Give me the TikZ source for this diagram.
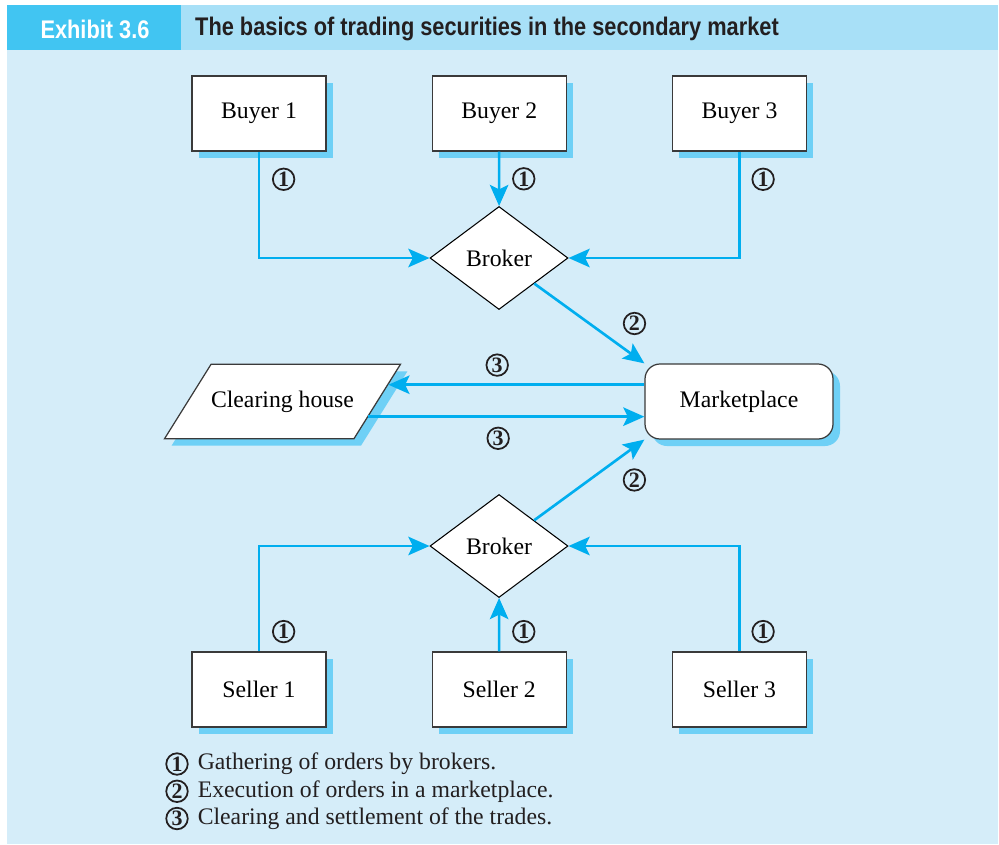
\documentclass[tikz,border=0pt]{standalone}
\usepackage{fontspec}
\setmainfont{Liberation Serif}
\newfontfamily\headfont{Liberation Sans}[FakeStretch=0.855]
\usepackage{xcolor}
\usepackage{tikz}
\usetikzlibrary{shapes.geometric, arrows.meta, positioning, shadows, calc}

\definecolor{bodyblue}{HTML}{D5EDF9}
\definecolor{headlight}{HTML}{A8E0F7}
\definecolor{headdark}{HTML}{41C5F2}
\definecolor{flowblue}{HTML}{00AEEF}
\definecolor{shadowblue}{HTML}{6ED0F6}
\definecolor{linegray}{HTML}{3A3A3A}
\definecolor{titleink}{HTML}{231F20}

\begin{document}
\begin{tikzpicture}[
        x=0.2mm, y=-0.2mm,
        boxshadow/.style={drop shadow={shadow xshift=0.14cm, shadow yshift=-0.14cm, fill=shadowblue, opacity=1}},
        party/.style={rectangle, draw=linegray, line width=0.7pt, fill=white, boxshadow,
            minimum width=2.68cm, minimum height=1.5cm, font=\fontsize{13.5}{15}\selectfont},
        broker/.style={diamond, draw, line width=0.6pt, fill=white, aspect=1.34, inner sep=0pt,
            minimum width=2.76cm, minimum height=2.06cm, font=\fontsize{13.5}{15}\selectfont},
        clearing/.style={trapezium, trapezium left angle=58, trapezium right angle=122, trapezium stretches body,
            draw=linegray, line width=0.7pt, fill=white, boxshadow,
            text height=9.5pt, text depth=3pt, inner ysep=14.9pt, inner xsep=0pt,
            minimum width=4.7cm, font=\fontsize{13.5}{15}\selectfont},
        market/.style={rectangle, rounded corners=0.3cm, draw=linegray, line width=0.7pt, fill=white, boxshadow,
            minimum width=3.76cm, minimum height=1.5cm, font=\fontsize{13.5}{15}\selectfont},
        numlbl/.style={circle, draw=titleink, text=titleink, line width=1pt, inner sep=0pt, minimum size=0.43cm,
            font=\fontsize{12.5}{12}\selectfont\bfseries},
        flow/.style={draw=flowblue, line width=1.5pt, -{Stealth[length=12pt, width=10.5pt, inset=2.5pt]}},
        keytext/.style={inner sep=2pt, text=titleink, font=\fontsize{13.5}{15}\selectfont},
        headtitle/.style={font=\headfont\bfseries\fontsize{14.5}{16}\selectfont}
    ]
    \useasboundingbox (0,0) rectangle (999,844);

    % Panel and heading band
    \fill[headdark] (7,5) rectangle (181,50);
    \fill[headlight] (181,5) rectangle (998,50);
    \fill[bodyblue] (7,50) rectangle (998,844);
    \node[headtitle, text=white] (exhibit) at (95,29) {Exhibit 3.6};
    \node[headtitle, text=titleink, anchor=west] (title) at (189,29) {The basics of trading securities in the secondary market};

    % Buyers and sellers
    \node[party] (buyer1) at (259,113.5) {Buyer 1};
    \node[party, right=2.1cm of buyer1] (buyer2) {Buyer 2};
    \node[party, right=2.1cm of buyer2] (buyer3) {Buyer 3};
    \node[party] (seller1) at (259,689.5) {Seller 1};
    \node[party, right=2.1cm of seller1] (seller2) {Seller 2};
    \node[party, right=2.1cm of seller2] (seller3) {Seller 3};

    % Brokers, clearing house, marketplace
    \node[broker] (brokertop) at (499,258) {Broker};
    \node[broker] (brokerbot) at (499,546) {Broker};
    \node[clearing] (clearing) at (282.5,401.5) {Clearing house};
    \node[market] (market) at (739,401.5) {Marketplace};

    % Gathering of orders
    \draw[flow] (buyer1.south) |- node[numlbl, pos=0.13, right=0.26cm] {1} (brokertop.west);
    \draw[flow] (buyer2) -- node[numlbl, right=0.26cm] {1} (brokertop);
    \draw[flow] (buyer3.south) |- node[numlbl, pos=0.13, right=0.24cm] {1} (brokertop.east);
    \draw[flow] (seller1.north) |- node[numlbl, pos=0.094, right=0.26cm] {1} (brokerbot.west);
    \draw[flow] (seller2) -- node[numlbl, pos=0.37, right=0.26cm] {1} (brokerbot);
    \draw[flow] (seller3.north) |- node[numlbl, pos=0.094, right=0.24cm] {1} (brokerbot.east);

    % Execution
    \draw[flow] (brokertop) -- node[numlbl, right=0.67cm] {2} (market.north west);
    \draw[flow] (brokerbot) -- node[numlbl, right=0.67cm] {2} (market.south west);

    % Clearing and settlement
    \draw[flow] (market.west |- clearing.9) -- node[numlbl, pos=0.575, above=0.16cm] {3} (clearing.9);
    \draw[flow] (clearing.350) -- node[numlbl, pos=0.47, below=0.2cm] {3} (clearing.350 -| market.west);

    % Key
    \node[numlbl] (key1) at (177,764) {1};
    \node[numlbl, below=0.08cm of key1] (key2) {2};
    \node[numlbl, below=0.08cm of key2] (key3) {3};
    \node[keytext, right=3pt of key1] (keytext1) {Gathering of orders by brokers.};
    \node[keytext, right=3pt of key2] (keytext2) {Execution of orders in a marketplace.};
    \node[keytext, right=3pt of key3] (keytext3) {Clearing and settlement of the trades.};
\end{tikzpicture}
\end{document}
